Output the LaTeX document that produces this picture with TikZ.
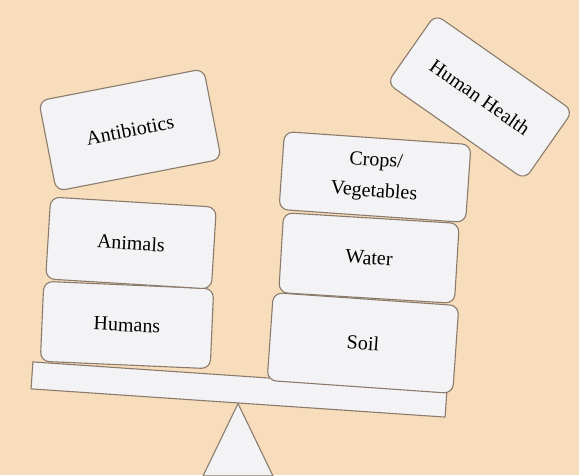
\documentclass[tikz,border=0pt]{standalone}
\usepackage{fontspec}
\setmainfont{Liberation Serif}
\definecolor{bg}{HTML}{F7DDBB}
\definecolor{boxfill}{HTML}{F3F3F5}
\definecolor{edge}{HTML}{8A7B6C}
\begin{document}
\begin{tikzpicture}[x=1pt,y=-1pt,
  card/.style={draw=edge, line width=1.1pt, fill=boxfill, rounded corners=9pt,
    inner sep=0pt, font=\fontsize{20}{31}\selectfont, align=center},
  plank/.style={draw=edge, line width=1.1pt, fill=boxfill, inner sep=0pt}]
\fill[bg] (0,0) rectangle (579,475);
\useasboundingbox (0,0) rectangle (579,475);
% beam and pivot
\node[plank, minimum width=415pt, minimum height=27pt, rotate=-3.9] (beam) at (239,389.5) {};
\coordinate (bl) at (203,476);
\coordinate (br) at (273,476);
\draw[plank] (beam.south) -- (br) -- (bl) -- cycle;
% left stack
\node[card, minimum width=170pt, minimum height=80pt, rotate=-2.5] (humans) at (127,325) {Humans};
\node[card, minimum width=166pt, minimum height=82pt, rotate=-3.5] (animals) at (131,243) {Animals};
\node[card, minimum width=168pt, minimum height=92pt, rotate=11] (antibiotics) at (130,130) {Antibiotics};
% right stack
\node[card, minimum width=186pt, minimum height=88pt, rotate=-4] (soil) at (363,343) {Soil};
\node[card, minimum width=176pt, minimum height=80pt, rotate=-3.5] (water) at (369,258) {Water};
\node[card, minimum width=187pt, minimum height=78pt, rotate=-4] (crops) at (375,177) {Crops/\\Vegetables};
\node[card, minimum width=168pt, minimum height=84pt, rotate=-35] (health) at (480,97) {Human Health};
\end{tikzpicture}
\end{document}
